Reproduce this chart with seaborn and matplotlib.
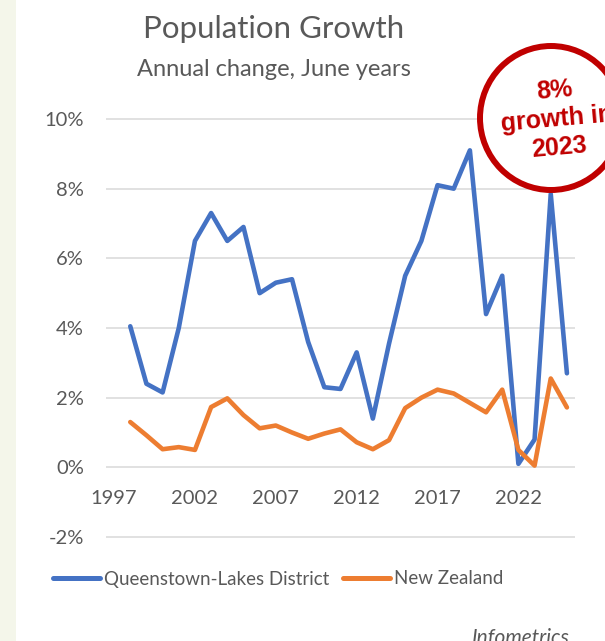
import pandas as pd
import matplotlib.pyplot as plt
import seaborn as sns
from matplotlib.patches import Ellipse, Rectangle
from matplotlib.ticker import FuncFormatter

# --- Data (annual % change, June years) ---
years = list(range(1997, 2025))
queenstown = [4.05, 2.4, 2.15, 4.0, 6.5, 7.3, 6.5, 6.9, 5.0, 5.3,
              5.4, 3.6, 2.3, 2.25, 3.3, 1.4, 3.55, 5.5, 6.5, 8.1,
              8.0, 9.1, 4.4, 5.5, 0.1, 0.8, 7.85, 2.7]
new_zealand = [1.3, 0.92, 0.52, 0.58, 0.5, 1.73, 1.98, 1.5, 1.12, 1.2,
               1.0, 0.82, 0.97, 1.09, 0.72, 0.52, 0.78, 1.7, 2.0, 2.23,
               2.12, 1.85, 1.58, 2.23, 0.5, 0.05, 2.55, 1.72]
series_names = ['Queenstown-Lakes District', 'New Zealand']
tick_years = [1997, 2002, 2007, 2012, 2017, 2022]
y_ticks = [-2, 0, 2, 4, 6, 8, 10]

TEXT_GREY = '#595959'
GRID_GREY = '#D9D9D9'
RED = '#C00000'
palette = {'Queenstown-Lakes District': '#4472C4', 'New Zealand': '#ED7D31'}

df = pd.DataFrame({
    'Year': years * 2,
    'Growth': queenstown + new_zealand,
    'Area': [series_names[0]] * len(years) + [series_names[1]] * len(years),
})

# --- Theme ---
sns.set_theme(style='white')
plt.rcParams['font.family'] = ['Lato', 'DejaVu Sans']

W, H = 605, 641
fig = plt.figure(figsize=(W / 100, H / 100), dpi=100)

# cream strip along the left edge
fig.patches.append(Rectangle((0, 0), 16 / W, 1, transform=fig.transFigure,
                             facecolor='#F4F6EA', edgecolor='none', zorder=-5))

# plot area: gridlines from x=106 to 575, 10% at y=119, -2% at y=537
pad = 0.05 * 34.83
ax = fig.add_axes([106 / W, 1 - (537 + pad) / H, 469 / W, (418 + 2 * pad) / H])

sns.lineplot(data=df, x='Year', y='Growth', hue='Area', palette=palette,
             hue_order=series_names, linewidth=3.3, ax=ax)
for line in ax.lines:
    line.set_solid_capstyle('round')
    line.set_solid_joinstyle('round')

ax.set_xlim(1995.5, 2024.5)
ax.set_ylim(-2.05, 10.05)
ax.set_xlabel('')
ax.set_ylabel('')

# category labels in the source sit one slot left of the points
ax.set_xticks([y - 1 for y in tick_years], labels=[str(y) for y in tick_years])
ax.set_yticks(y_ticks)
ax.yaxis.set_major_formatter(FuncFormatter(lambda v, pos: f'{v:.0f}%'))

ax.grid(axis='y', color=GRID_GREY, linewidth=1.1)
ax.grid(axis='x', visible=False)
for s in ax.spines.values():
    s.set_visible(False)
ax.spines['bottom'].set_position(('data', 0))
ax.tick_params(axis='x', length=0, pad=16, labelsize=14.5, labelcolor=TEXT_GREY)
ax.tick_params(axis='y', length=0, pad=16, labelsize=14.5, labelcolor=TEXT_GREY)

# --- Legend ---
handles, labels = ax.get_legend_handles_labels()
ax.get_legend().remove()
leg = fig.legend(handles, labels, loc='center', bbox_to_anchor=(278 / W, 1 - 579 / H),
                 ncol=2, frameon=False, fontsize=13.5, handlelength=2.55,
                 handletextpad=0.2, columnspacing=0.7, labelcolor=TEXT_GREY)
for lh in leg.get_lines():
    lh.set_linewidth(3.6)

# --- Titles ---
fig.text(274 / W, 1 - 29 / H, 'Population Growth', ha='center', va='center',
         fontsize=22.5, color=TEXT_GREY)
fig.text(274 / W, 1 - 70 / H, 'Annual change, June years', ha='center', va='center',
         fontsize=17, color=TEXT_GREY)

# --- Callout circle ---
fig.add_artist(Ellipse((551 / W, 1 - 118 / H), 142 / W, 144 / H, transform=fig.transFigure,
                       facecolor='white', edgecolor=RED, linewidth=4.3, zorder=5))
fig.text(557 / W, 1 - 119 / H, '8%\ngrowth in\n2023', ha='center', va='center',
         rotation=5, rotation_mode='anchor', fontsize=18, fontweight='bold',
         color=RED, family=['Liberation Sans', 'DejaVu Sans'], zorder=6,
         linespacing=1.25)

# source note, cut off at the bottom right like the original
fig.text(472 / W, -0.004, 'Infometrics', ha='left', va='baseline', fontsize=15,
         style='italic', color=TEXT_GREY)

fig.savefig('out.png', dpi=100)
plt.close(fig)
